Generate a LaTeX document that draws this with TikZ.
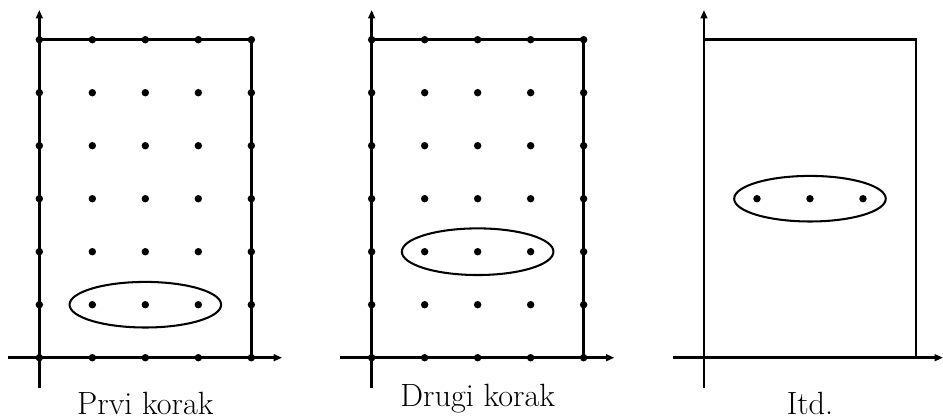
\documentclass[tikz,border=0pt]{standalone}
\usepackage{tikz}
\usetikzlibrary{arrows.meta}

\begin{document}
\begin{tikzpicture}[
  >={Triangle[length=4.5pt, width=3.6pt]},
  axis/.style={->, line width=1.4pt},
  frame/.style={line width=1.4pt},
  pt/.style={circle, fill=black, inner sep=0pt, minimum size=4pt},
  group/.style={line width=1.1pt},
  lbl/.style={font=\LARGE, anchor=base},
]
  \useasboundingbox (-0.742,-1.157) rectangle (17.05,6.749);

  % --- first step ---------------------------------------------------
  \begin{scope}
    \draw[axis] (-0.59,0) -- (4.58,0);
    \draw[axis] (0,-0.57) -- (0,6.56);
    \draw[frame] (0,6) -- (4,6) -- (4,0);
    \foreach \x in {0,...,4}
      \foreach \y in {0,...,6}
        \node[pt] (a-\x-\y) at (\x,\y) {};
    \draw[group] (2,1) ellipse (1.43 and 0.43);
    \node[lbl] (prvi) at (2,-1.07) {Prvi korak};
  \end{scope}

  % --- second step --------------------------------------------------
  \begin{scope}[xshift=6.27cm]
    \draw[axis] (-0.59,0) -- (4.58,0);
    \draw[axis] (0,-0.57) -- (0,6.56);
    \draw[frame] (0,6) -- (4,6) -- (4,0);
    \foreach \x in {0,...,4}
      \foreach \y in {0,...,6}
        \node[pt] (b-\x-\y) at (\x,\y) {};
    \draw[group] (2,2) ellipse (1.43 and 0.44);
    \node[lbl] (drugi) at (2,-0.925) {Drugi korak};
  \end{scope}

  % --- and so on ----------------------------------------------------
  \begin{scope}[xshift=12.54cm]
    \draw[axis] (-0.59,0) -- (4.51,0);
    \draw[axis] (0,-0.57) -- (0,6.56);
    \draw[frame] (0,6) -- (4,6) -- (4,0);
    \foreach \x in {1,2,3}
      \node[pt] (c-\x) at (\x,3) {};
    \draw[group] (2,3) ellipse (1.43 and 0.43);
    \node[lbl] (itd) at (2,-1.07) {Itd.};
  \end{scope}
\end{tikzpicture}
\end{document}
